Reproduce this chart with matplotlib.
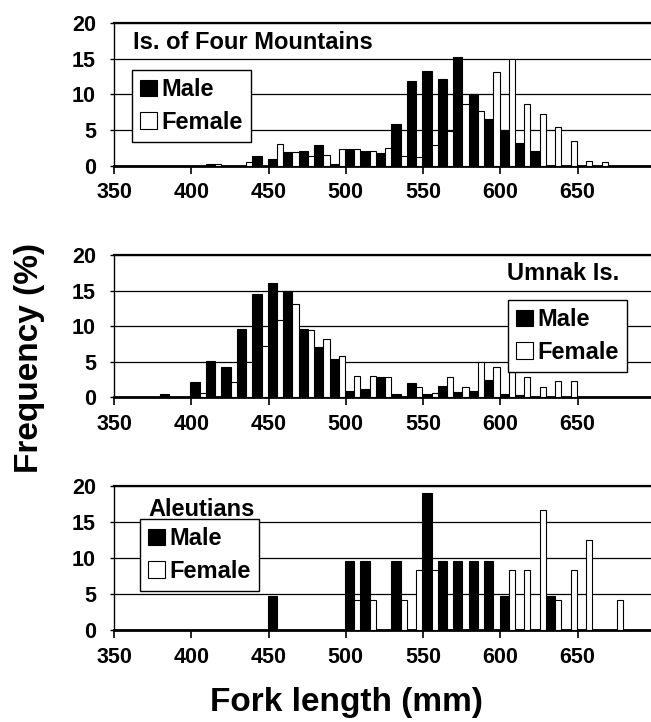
import matplotlib
matplotlib.use("Agg")
import matplotlib.pyplot as plt
from matplotlib.patches import Patch

plt.rcParams['font.family'] = ['Liberation Sans', 'DejaVu Sans']
plt.rcParams['font.weight'] = 'bold'

# ---------------- data (percent frequency by 10-mm fork-length bin) ----------------
bins1 = [410, 420, 430, 440, 450, 460, 470, 480, 490, 500, 510, 520, 530,
         540, 550, 560, 570, 580, 590, 600, 610, 620, 630, 640, 650, 660]
male1 = [0.2, 0, 0, 1.3, 0.9, 1.9, 2.0, 2.9, 0.3, 2.3, 2.0, 1.8, 5.8,
         11.9, 13.3, 12.2, 15.2, 10.1, 6.6, 4.9, 3.2, 2.0, 0, 0, 0, 0]
female1 = [0.3, 0, 0.5, 0, 3.0, 1.9, 1.4, 1.5, 2.3, 2.3, 2.0, 2.5, 1.4,
           1.2, 2.9, 4.9, 8.7, 7.7, 13.2, 14.9, 8.7, 7.2, 5.4, 3.5, 0.7, 0.5]

bins2 = [380, 390, 400, 410, 420, 430, 440, 450, 460, 470, 480, 490, 500, 510,
         520, 530, 540, 550, 560, 570, 580, 590, 600, 610, 620, 630, 640]
male2 = [0.5, 0, 2.1, 5.1, 4.3, 9.6, 14.5, 16.0, 15.0, 9.6, 7.0, 5.4, 0.9, 1.1,
         2.9, 0.4, 2.0, 0.4, 1.6, 0.7, 0.9, 2.4, 0.4, 0.3, 0, 0, 0]
female2 = [0, 0, 0.65, 0, 2.1, 5.0, 7.2, 10.9, 13.1, 9.5, 8.2, 5.8, 3.0, 3.0,
           2.9, 0, 1.4, 0.65, 2.9, 1.4, 4.9, 4.3, 3.6, 2.9, 1.5, 2.3, 2.3]

bins3 = [450, 460, 470, 480, 490, 500, 510, 520, 530, 540, 550, 560,
         570, 580, 590, 600, 610, 620, 630, 640, 650, 660, 670]
male3 = [4.76, 0, 0, 0, 0, 9.52, 9.52, 0, 9.52, 0, 19.05, 9.52,
         9.52, 9.52, 9.52, 4.76, 0, 0, 4.76, 0, 0, 0, 0]
female3 = [0, 0, 0, 0, 0, 4.17, 4.17, 0, 4.17, 8.33, 8.33, 0,
           0, 0, 0, 8.33, 8.33, 16.67, 4.17, 8.33, 12.5, 0, 4.17]

titles = ["Is. of Four Mountains", "Umnak Is.", "Aleutians"]
xticks = [350, 400, 450, 500, 550, 600, 650]
yticks = [0, 5, 10, 15, 20]
series_labels = ["Male", "Female"]

# ---------------- layout ----------------
W, H = 651, 722
fig = plt.figure(figsize=(W / 100, H / 100), dpi=100)


def rect(l, t, r, b):
    return [l / W, 1 - b / H, (r - l) / W, (b - t) / H]


panels = [
    dict(rect=rect(114, 23, 651, 165.7), bins=bins1, m=male1, f=female1,
         title_xy=(0.035, 0.86), title_ha='left',
         leg_xy=(0.0335, 0.672)),
    dict(rect=rect(114, 255, 651, 397.3), bins=bins2, m=male2, f=female2,
         title_xy=(0.941, 0.87), title_ha='right',
         leg_xy=(0.734, 0.684)),
    dict(rect=rect(114, 486, 651, 630), bins=bins3, m=male3, f=female3,
         title_xy=(0.064, 0.84), title_ha='left',
         leg_xy=(0.048, 0.77)),
]

FS = 15.5
for i, p in enumerate(panels):
    ax = fig.add_axes(p['rect'])
    ax.set_xlim(350, 697.5)
    ax.set_ylim(0, 20)
    ax.set_yticks(yticks)
    ax.set_xticks(xticks)
    ax.set_axisbelow(True)
    ax.yaxis.grid(True, color='black', linewidth=0.9)
    ax.xaxis.grid(False)
    mx = [b - 0.5 for b in p['bins']]
    fx = [b + 5.5 for b in p['bins']]
    ax.bar(mx, p['m'], width=6.0, align='edge', color='black',
           edgecolor='black', linewidth=0.8, zorder=2)
    ax.bar(fx, p['f'], width=4.0, align='edge', color='white',
           edgecolor='black', linewidth=0.8, zorder=3)
    ax.spines['right'].set_visible(False)
    ax.spines['top'].set_linewidth(1.6)
    ax.spines['left'].set_linewidth(1.0)
    ax.spines['bottom'].set_linewidth(2.0)
    ax.tick_params(axis='x', direction='out', length=6, width=1.2, pad=6,
                   labelsize=FS)
    ax.tick_params(axis='y', direction='out', length=3, width=1, pad=10,
                   labelsize=FS)
    for lab in ax.get_xticklabels() + ax.get_yticklabels():
        lab.set_fontweight('bold')
    ax.text(p['title_xy'][0], p['title_xy'][1], titles[i], transform=ax.transAxes,
            ha=p['title_ha'], va='center', fontsize=17, fontweight='bold', zorder=5)
    handles = [Patch(facecolor='black', edgecolor='black', linewidth=0.8),
               Patch(facecolor='white', edgecolor='black', linewidth=0.8)]
    leg = ax.legend(handles, series_labels, loc='upper left',
                    bbox_to_anchor=p['leg_xy'], borderaxespad=0,
                    frameon=True, fancybox=False, shadow=False,
                    prop={'weight': 'bold', 'size': 17},
                    handlelength=0.7, handleheight=0.7, handletextpad=0.2,
                    borderpad=0.35, labelspacing=0.4, framealpha=1)
    leg.get_frame().set_edgecolor('black')
    leg.get_frame().set_linewidth(1.0)
    leg.set_zorder(6)

fig.text(30 / W, 1 - 358 / H, "Frequency (%)", rotation=90, ha='center',
         va='center', fontsize=24, fontweight='bold')
fig.text(346 / W, 1 - 703 / H, "Fork length (mm)", ha='center', va='center',
         fontsize=24, fontweight='bold')

fig.savefig("out.png", dpi=100)
